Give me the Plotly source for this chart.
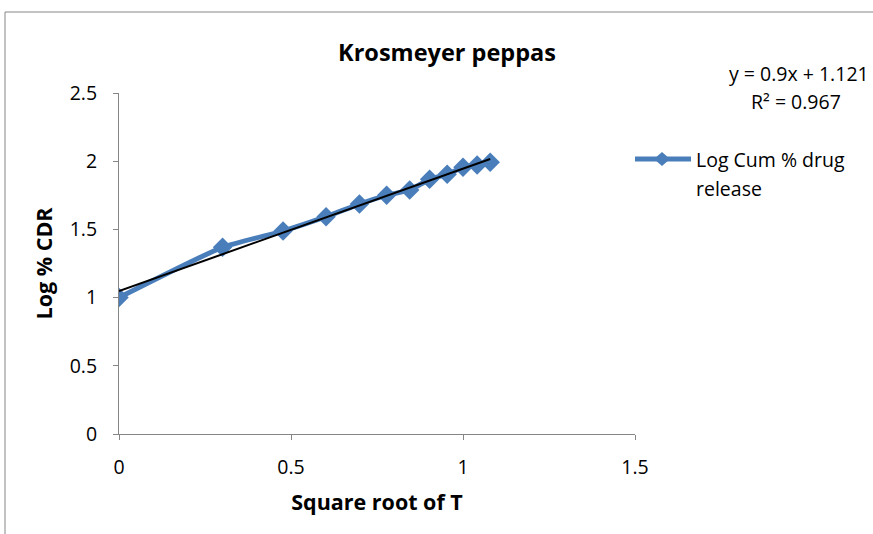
import numpy as np
import plotly.graph_objects as go

# Data
x_vals = [0.0, 0.301, 0.477, 0.602, 0.699, 0.778, 0.845, 0.903, 0.954, 1.0, 1.041, 1.079]
y_vals = [1.0, 1.369, 1.488, 1.593, 1.686, 1.75, 1.789, 1.867, 1.904, 1.955, 1.972, 1.992]
series_name = "Log Cum % drug release"
legend_lines = ["Log Cum % drug", "release"]
title_text = "Krosmeyer peppas"
x_title = "Square root of T"
y_title = "Log % CDR"
eq_text = "y = 0.9x + 1.121"
r2_text = "R² = 0.967"
x_ticks = [0, 0.5, 1, 1.5]
y_ticks = [0, 0.5, 1, 1.5, 2, 2.5]

FONT = "Open Sans"
BLUE = "#4A7EBB"
AXIS = "#868686"
TXT = 19.5

slope, intercept = np.polyfit(x_vals, y_vals, 1)
tx = [min(x_vals), max(x_vals)]
ty = [slope * v + intercept for v in tx]

fig = go.Figure()
fig.add_trace(go.Scatter(
    x=x_vals, y=y_vals, mode="lines+markers", name=series_name, showlegend=False,
    line=dict(color=BLUE, width=5, shape="spline", smoothing=0.5),
    marker=dict(symbol="diamond", size=15, color=BLUE),
))
fig.add_trace(go.Scatter(
    x=tx, y=ty, mode="lines", showlegend=False,
    line=dict(color="black", width=2), hoverinfo="skip",
))

# plot area geometry (pixels) for paper conversions
L, R, T, B = 119, 635, 93, 434
W, H = R - L, B - T
def px(x): return (x - L) / W
def py(y): return (B - y) / H

fig.update_layout(
    width=873, height=534,
    margin=dict(l=L, r=873 - R, t=T, b=534 - B),
    paper_bgcolor="white", plot_bgcolor="white",
    font=dict(family=FONT, size=TXT, color="black"),
    title=dict(text="<b>" + title_text + "</b>", xref="container", yref="container",
               x=447 / 873, y=1 - 53 / 534,
               xanchor="center", yanchor="middle", font=dict(size=23.5, family=FONT)),
    xaxis=dict(range=[0, 1.5], tickvals=x_ticks, ticktext=[str(v) for v in x_ticks],
               showgrid=False, zeroline=False, showline=True, linecolor=AXIS, linewidth=1,
               ticks="outside", ticklen=5, tickcolor=AXIS, ticklabelstandoff=11,
               title=dict(text="<b>" + x_title + "</b>", font=dict(size=21.5), standoff=15)),
    yaxis=dict(range=[0, 2.5], tickvals=y_ticks, ticktext=[str(v) for v in y_ticks],
               showgrid=False, zeroline=False, showline=True, linecolor=AXIS, linewidth=1,
               ticks="outside", ticklen=5, tickcolor=AXIS, ticklabelstandoff=12,
               title=dict(text="<b>" + y_title + "</b>", font=dict(size=21.5), standoff=11)),
    showlegend=False,
)

# trendline equation
fig.add_annotation(text=eq_text, x=px(871), y=py(73), xref="paper", yref="paper",
                   xanchor="right", yanchor="middle", showarrow=False)
fig.add_annotation(text=r2_text, x=px(796), y=py(101), xref="paper", yref="paper",
                   xanchor="center", yanchor="middle", showarrow=False)

# legend (drawn manually to match the long legend key)
ly = 159
fig.add_shape(type="line", xref="paper", yref="paper", x0=px(635), x1=px(691),
              y0=py(ly), y1=py(ly), line=dict(color=BLUE, width=5))
cx, hw, hh = 662, 8, 7
fig.add_shape(type="path", xref="paper", yref="paper",
              path=f"M {px(cx-hw)},{py(ly)} L {px(cx)},{py(ly-hh)} L {px(cx+hw)},{py(ly)} L {px(cx)},{py(ly+hh)} Z",
              fillcolor=BLUE, line=dict(color=BLUE, width=0))
for i, t in enumerate(legend_lines):
    fig.add_annotation(text=t, x=px(694), y=py(ly + 29 * i), xref="paper", yref="paper",
                       xanchor="left", yanchor="middle", showarrow=False)

# chart-area border
fig.add_shape(type="rect", xref="paper", yref="paper",
              x0=px(5), x1=px(900), y0=py(560), y1=py(12),
              line=dict(color=AXIS, width=1), fillcolor="rgba(0,0,0,0)", layer="below")

fig.write_html("out.html")
